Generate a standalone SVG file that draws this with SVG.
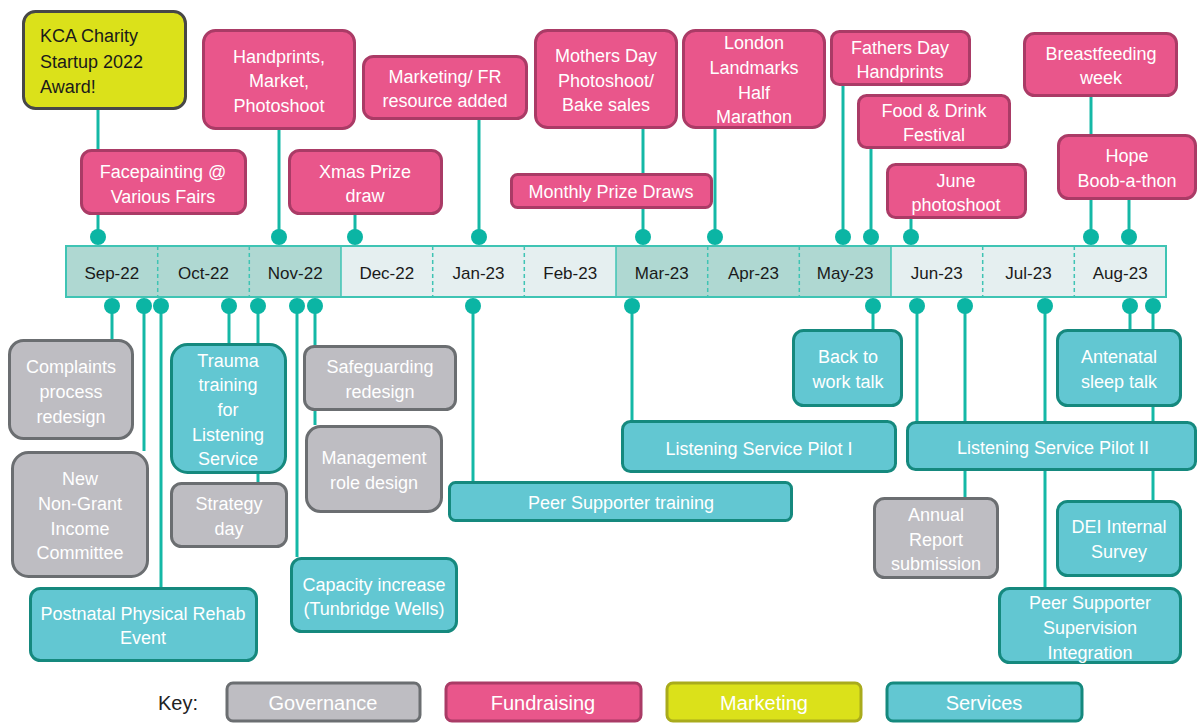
<svg xmlns="http://www.w3.org/2000/svg" width="1198" height="724" viewBox="0 0 1198 724">
<style>
text{font-family:"Liberation Sans",Arial,sans-serif;font-size:18px;fill:#ffffff;text-anchor:middle}
.fr{fill:#e9568b;stroke:#aa3b66;stroke-width:3}
.gv{fill:#bebdc2;stroke:#6b6e71;stroke-width:3}
.sv{fill:#62c7d2;stroke:#15897e;stroke-width:3}
.mk{fill:#dbe11a;stroke:#474747;stroke-width:3}
.ln{stroke:#14b8a6;stroke-width:3;fill:none}
.dot{fill:#0bb5a4}
.mon{fill:#1a1a1a;font-size:17px}
.div{stroke:#3fc4b4;stroke-width:1.5}
.dash{stroke-dasharray:4 3}
.key{font-size:20px}
</style>
<rect width="1198" height="724" fill="#ffffff"/>
<g id="connectors">
<line class="ln" x1="98" y1="110" x2="98" y2="237"/>
<line class="ln" x1="279" y1="130" x2="279" y2="237"/>
<line class="ln" x1="355" y1="215" x2="355" y2="237"/>
<line class="ln" x1="479" y1="120" x2="479" y2="237"/>
<line class="ln" x1="643" y1="129" x2="643" y2="237"/>
<line class="ln" x1="715" y1="129" x2="715" y2="237"/>
<line class="ln" x1="843" y1="86" x2="843" y2="237"/>
<line class="ln" x1="871" y1="149" x2="871" y2="237"/>
<line class="ln" x1="911" y1="219" x2="911" y2="237"/>
<line class="ln" x1="1091" y1="97" x2="1091" y2="237"/>
<line class="ln" x1="1129" y1="200" x2="1129" y2="237"/>
<line class="ln" x1="112" y1="306" x2="112" y2="339"/>
<line class="ln" x1="144" y1="306" x2="144" y2="451"/>
<line class="ln" x1="161" y1="306" x2="161" y2="587"/>
<line class="ln" x1="229" y1="306" x2="229" y2="343"/>
<line class="ln" x1="258" y1="306" x2="258" y2="482"/>
<line class="ln" x1="297" y1="306" x2="297" y2="557"/>
<line class="ln" x1="315" y1="306" x2="315" y2="425"/>
<line class="ln" x1="473" y1="306" x2="473" y2="481"/>
<line class="ln" x1="632" y1="306" x2="632" y2="420"/>
<line class="ln" x1="873" y1="306" x2="873" y2="329"/>
<line class="ln" x1="917" y1="306" x2="917" y2="421"/>
<line class="ln" x1="965" y1="306" x2="965" y2="497"/>
<line class="ln" x1="1045" y1="306" x2="1045" y2="587"/>
<line class="ln" x1="1130" y1="306" x2="1130" y2="329"/>
<line class="ln" x1="1153" y1="306" x2="1153" y2="500"/>
<circle class="dot" cx="98" cy="237" r="8"/>
<circle class="dot" cx="279" cy="237" r="8"/>
<circle class="dot" cx="355" cy="237" r="8"/>
<circle class="dot" cx="479" cy="237" r="8"/>
<circle class="dot" cx="643" cy="237" r="8"/>
<circle class="dot" cx="715" cy="237" r="8"/>
<circle class="dot" cx="843" cy="237" r="8"/>
<circle class="dot" cx="871" cy="237" r="8"/>
<circle class="dot" cx="911" cy="237" r="8"/>
<circle class="dot" cx="1091" cy="237" r="8"/>
<circle class="dot" cx="1129" cy="237" r="8"/>
<circle class="dot" cx="112" cy="306" r="8"/>
<circle class="dot" cx="144" cy="306" r="8"/>
<circle class="dot" cx="161" cy="306" r="8"/>
<circle class="dot" cx="229" cy="306" r="8"/>
<circle class="dot" cx="258" cy="306" r="8"/>
<circle class="dot" cx="297" cy="306" r="8"/>
<circle class="dot" cx="315" cy="306" r="8"/>
<circle class="dot" cx="473" cy="306" r="8"/>
<circle class="dot" cx="632" cy="306" r="8"/>
<circle class="dot" cx="873" cy="306" r="8"/>
<circle class="dot" cx="917" cy="306" r="8"/>
<circle class="dot" cx="965" cy="306" r="8"/>
<circle class="dot" cx="1045" cy="306" r="8"/>
<circle class="dot" cx="1130" cy="306" r="8"/>
<circle class="dot" cx="1153" cy="306" r="8"/>
</g>
<g id="timeline">
<rect x="66" y="246" width="275" height="51" fill="#afd8d2"/>
<rect x="341" y="246" width="275" height="51" fill="#e5eff0"/>
<rect x="616" y="246" width="275" height="51" fill="#afd8d2"/>
<rect x="891" y="246" width="275" height="51" fill="#e5eff0"/>
<line class="div dash" x1="157.7" y1="246" x2="157.7" y2="297"/>
<line class="div dash" x1="249.3" y1="246" x2="249.3" y2="297"/>
<line class="div" x1="341" y1="246" x2="341" y2="297"/>
<line class="div dash" x1="432.7" y1="246" x2="432.7" y2="297"/>
<line class="div dash" x1="524.3" y1="246" x2="524.3" y2="297"/>
<line class="div" x1="616" y1="246" x2="616" y2="297"/>
<line class="div dash" x1="707.7" y1="246" x2="707.7" y2="297"/>
<line class="div dash" x1="799.3" y1="246" x2="799.3" y2="297"/>
<line class="div" x1="891" y1="246" x2="891" y2="297"/>
<line class="div dash" x1="982.7" y1="246" x2="982.7" y2="297"/>
<line class="div dash" x1="1074.3" y1="246" x2="1074.3" y2="297"/>
<rect x="66" y="246" width="1100" height="51" fill="none" stroke="#3fc4b4" stroke-width="2"/>
<text class="mon" x="111.8" y="279">Sep-22</text>
<text class="mon" x="203.5" y="279">Oct-22</text>
<text class="mon" x="295.2" y="279">Nov-22</text>
<text class="mon" x="386.8" y="279">Dec-22</text>
<text class="mon" x="478.5" y="279">Jan-23</text>
<text class="mon" x="570.2" y="279">Feb-23</text>
<text class="mon" x="661.8" y="279">Mar-23</text>
<text class="mon" x="753.5" y="279">Apr-23</text>
<text class="mon" x="845.2" y="279">May-23</text>
<text class="mon" x="936.8" y="279">Jun-23</text>
<text class="mon" x="1028.5" y="279">Jul-23</text>
<text class="mon" x="1120.2" y="279">Aug-23</text>
</g>
<g id="kca"><rect class="mk" x="23.5" y="11.5" width="162" height="97" rx="12"/>
<text style="fill:#1a1a1a;text-anchor:start"><tspan x="40" y="42">KCA Charity</tspan><tspan x="40" y="68">Startup 2022</tspan><tspan x="40" y="93">Award!</tspan></text></g>
<g id="facepainting"><rect class="fr" x="81.5" y="150.5" width="164" height="63" rx="10"/>
<text><tspan x="163" y="178">Facepainting @</tspan><tspan x="163" y="203">Various Fairs</tspan></text></g>
<g id="handprints"><rect class="fr" x="203.5" y="30.5" width="151" height="98" rx="12"/>
<text><tspan x="279" y="63">Handprints,</tspan><tspan x="279" y="87">Market,</tspan><tspan x="279" y="112">Photoshoot</tspan></text></g>
<g id="xmas"><rect class="fr" x="289.5" y="150.5" width="152" height="63" rx="10"/>
<text><tspan x="365" y="178">Xmas Prize</tspan><tspan x="365" y="202">draw</tspan></text></g>
<g id="marketingfr"><rect class="fr" x="363.5" y="56.5" width="163" height="62" rx="10"/>
<text><tspan x="445" y="83">Marketing/ FR</tspan><tspan x="445" y="107">resource added</tspan></text></g>
<g id="mothersday"><rect class="fr" x="535.5" y="30.5" width="141" height="97" rx="12"/>
<text><tspan x="606" y="62">Mothers Day</tspan><tspan x="606" y="87">Photoshoot/</tspan><tspan x="606" y="111">Bake sales</tspan></text></g>
<g id="london"><rect class="fr" x="683.5" y="30.5" width="141" height="97" rx="12"/>
<text><tspan x="754" y="49">London</tspan><tspan x="754" y="74">Landmarks</tspan><tspan x="754" y="99">Half</tspan><tspan x="754" y="123">Marathon</tspan></text></g>
<g id="monthly"><rect class="fr" x="511.5" y="174.5" width="200" height="33" rx="6"/>
<text x="611" y="198">Monthly Prize Draws</text></g>
<g id="fathersday"><rect class="fr" x="831.5" y="31.5" width="138" height="53" rx="8"/>
<text><tspan x="900" y="54">Fathers Day</tspan><tspan x="900" y="78">Handprints</tspan></text></g>
<g id="fooddrink"><rect class="fr" x="858.5" y="95.5" width="151" height="52" rx="8"/>
<text><tspan x="934" y="117">Food &amp; Drink</tspan><tspan x="934" y="141">Festival</tspan></text></g>
<g id="june"><rect class="fr" x="887.5" y="164.5" width="138" height="53" rx="8"/>
<text><tspan x="956" y="187">June</tspan><tspan x="956" y="211">photoshoot</tspan></text></g>
<g id="breastfeeding"><rect class="fr" x="1024.5" y="33.5" width="152" height="62" rx="10"/>
<text><tspan x="1101" y="60">Breastfeeding</tspan><tspan x="1101" y="84">week</tspan></text></g>
<g id="hope"><rect class="fr" x="1058.5" y="135.5" width="137" height="63" rx="10"/>
<text><tspan x="1127" y="162">Hope</tspan><tspan x="1127" y="187">Boob-a-thon</tspan></text></g>
<g id="complaints"><rect class="gv" x="9.5" y="340.5" width="123" height="98" rx="14"/>
<text><tspan x="71" y="373">Complaints</tspan><tspan x="71" y="398">process</tspan><tspan x="71" y="423">redesign</tspan></text></g>
<g id="nongrant"><rect class="gv" x="12.5" y="452.5" width="135" height="124" rx="16"/>
<text><tspan x="80" y="485">New</tspan><tspan x="80" y="510">Non-Grant</tspan><tspan x="80" y="535">Income</tspan><tspan x="80" y="559">Committee</tspan></text></g>
<g id="postnatal"><rect class="sv" x="30.5" y="588.5" width="226" height="72" rx="10"/>
<text><tspan x="143" y="620">Postnatal Physical Rehab</tspan><tspan x="143" y="644">Event</tspan></text></g>
<g id="trauma"><rect class="sv" x="171.5" y="344.5" width="114" height="128" rx="16"/>
<text><tspan x="228" y="367">Trauma</tspan><tspan x="228" y="391">training</tspan><tspan x="228" y="416">for</tspan><tspan x="228" y="441">Listening</tspan><tspan x="228" y="465">Service</tspan></text></g>
<g id="strategy"><rect class="gv" x="171.5" y="483.5" width="115" height="63" rx="10"/>
<text><tspan x="229" y="510">Strategy</tspan><tspan x="229" y="535">day</tspan></text></g>
<g id="safeguarding"><rect class="gv" x="304.5" y="346.5" width="151" height="63" rx="10"/>
<text><tspan x="380" y="373">Safeguarding</tspan><tspan x="380" y="398">redesign</tspan></text></g>
<g id="management"><rect class="gv" x="306.5" y="426.5" width="135" height="85" rx="14"/>
<text><tspan x="374" y="464">Management</tspan><tspan x="374" y="489">role design</tspan></text></g>
<g id="capacity"><rect class="sv" x="291.5" y="558.5" width="165" height="73" rx="10"/>
<text><tspan x="374" y="591">Capacity increase</tspan><tspan x="374" y="615">(Tunbridge Wells)</tspan></text></g>
<g id="peertraining"><rect class="sv" x="449.5" y="482.5" width="342" height="38" rx="6"/>
<text x="621" y="509">Peer Supporter training</text></g>
<g id="pilot1"><rect class="sv" x="622.5" y="421.5" width="273" height="50" rx="8"/>
<text x="759" y="455">Listening Service Pilot I</text></g>
<g id="backtowork"><rect class="sv" x="793.5" y="330.5" width="108" height="75" rx="10"/>
<text><tspan x="848" y="363">Back to</tspan><tspan x="848" y="388">work talk</tspan></text></g>
<g id="pilot2"><rect class="sv" x="907.5" y="422.5" width="288" height="47" rx="8"/>
<text x="1053" y="454">Listening Service Pilot II</text></g>
<g id="antenatal"><rect class="sv" x="1057.5" y="330.5" width="123" height="75" rx="10"/>
<text><tspan x="1119" y="363">Antenatal</tspan><tspan x="1119" y="388">sleep talk</tspan></text></g>
<g id="annual"><rect class="gv" x="874.5" y="498.5" width="123" height="79" rx="10"/>
<text><tspan x="936" y="521">Annual</tspan><tspan x="936" y="546">Report</tspan><tspan x="936" y="570">submission</tspan></text></g>
<g id="dei"><rect class="sv" x="1057.5" y="501.5" width="123" height="74" rx="10"/>
<text><tspan x="1119" y="533">DEI Internal</tspan><tspan x="1119" y="558">Survey</tspan></text></g>
<g id="peersupervision"><rect class="sv" x="999.5" y="588.5" width="181" height="74" rx="10"/>
<text><tspan x="1090" y="609">Peer Supporter</tspan><tspan x="1090" y="634">Supervision</tspan><tspan x="1090" y="659">Integration</tspan></text></g>
<g id="key">
<text class="key" x="158" y="710" style="fill:#222;text-anchor:start">Key:</text>
<rect class="gv" x="227" y="683" width="193" height="38" rx="6"/>
<text class="key" x="323" y="710">Governance</text>
<rect class="fr" x="446" y="683" width="195" height="38" rx="6"/>
<text class="key" x="543" y="710">Fundraising</text>
<rect class="mk" x="667" y="683" width="194" height="38" rx="6" style="stroke:#a9ab1c"/>
<text class="key" x="764" y="710">Marketing</text>
<rect class="sv" x="887" y="683" width="195" height="38" rx="6"/>
<text class="key" x="984" y="710">Services</text>
</g>
</svg>
